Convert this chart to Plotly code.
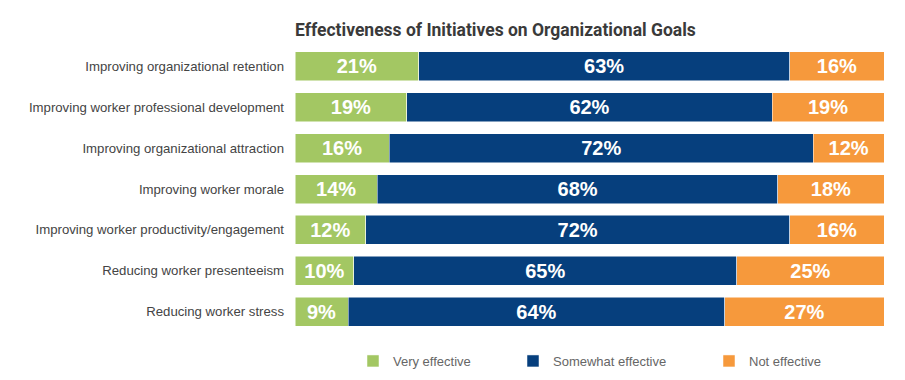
import plotly.graph_objects as go

categories = [
    "Improving organizational retention",
    "Improving worker professional development",
    "Improving organizational attraction",
    "Improving worker morale",
    "Improving worker productivity/engagement",
    "Reducing worker presenteeism",
    "Reducing worker stress",
]
series_names = ["Very effective", "Somewhat effective", "Not effective"]
very_effective = [21, 19, 16, 14, 12, 10, 9]
somewhat_effective = [63, 62, 72, 68, 72, 65, 64]
not_effective = [16, 19, 12, 18, 16, 25, 27]

colors = ["#A3C763", "#063F7D", "#F6993C"]
legends = ["legend", "legend2", "legend3"]
legend_x = [367, 527, 723]

W, H = 905, 380
ML, MR, MT, MB = 295, 21, 46, 48

fig = go.Figure()
for name, vals, col, lg in zip(series_names, [very_effective, somewhat_effective, not_effective], colors, legends):
    fig.add_trace(go.Bar(
        y=categories, x=vals, name=name, orientation="h",
        marker=dict(color=col, line=dict(color="white", width=0.5)),
        text=[f"{v}%" for v in vals], textposition="inside", insidetextanchor="middle",
        textfont=dict(family="Liberation Sans, Arial", size=20, color="white", weight="bold"),
        legend=lg, hoverinfo="skip",
    ))

pw = W - ML - MR
layout_legends = {}
for lg, lx in zip(legends, legend_x):
    layout_legends[lg] = dict(
        orientation="h", x=(lx - ML - 14) / pw, xanchor="left",
        y=-(361 - (H - MB)) / (H - MT - MB), yanchor="middle",
        font=dict(family="Liberation Sans, Arial", size=13, color="#666666"),
        bgcolor="rgba(0,0,0,0)", itemclick=False,
    )

fig.update_layout(
    width=W, height=H,
    margin=dict(l=ML, r=MR, t=MT, b=MB, autoexpand=False),
    barmode="stack", bargap=0.29,
    plot_bgcolor="white", paper_bgcolor="white",
    showlegend=True,
    title=dict(
        text="<b>Effectiveness of Initiatives on Organizational Goals</b>",
        x=0, xref="paper", xanchor="left",
        y=1 - 30 / H, yref="container", yanchor="middle",
        font=dict(family="Liberation Sans Narrow, Roboto, Arial", size=17.5, color="#3a3a3a"),
    ),
    xaxis=dict(range=[0, 100], visible=False, fixedrange=True),
    yaxis=dict(autorange="reversed", showgrid=False, showline=False, ticks="",
               ticklabelstandoff=10, fixedrange=True,
               tickfont=dict(family="Liberation Sans, Arial", size=13.2, color="#444444")),
    **layout_legends,
)

fig.write_html("out.html", config={"displayModeBar": False},
               post_script="document.body.style.margin='0';")
